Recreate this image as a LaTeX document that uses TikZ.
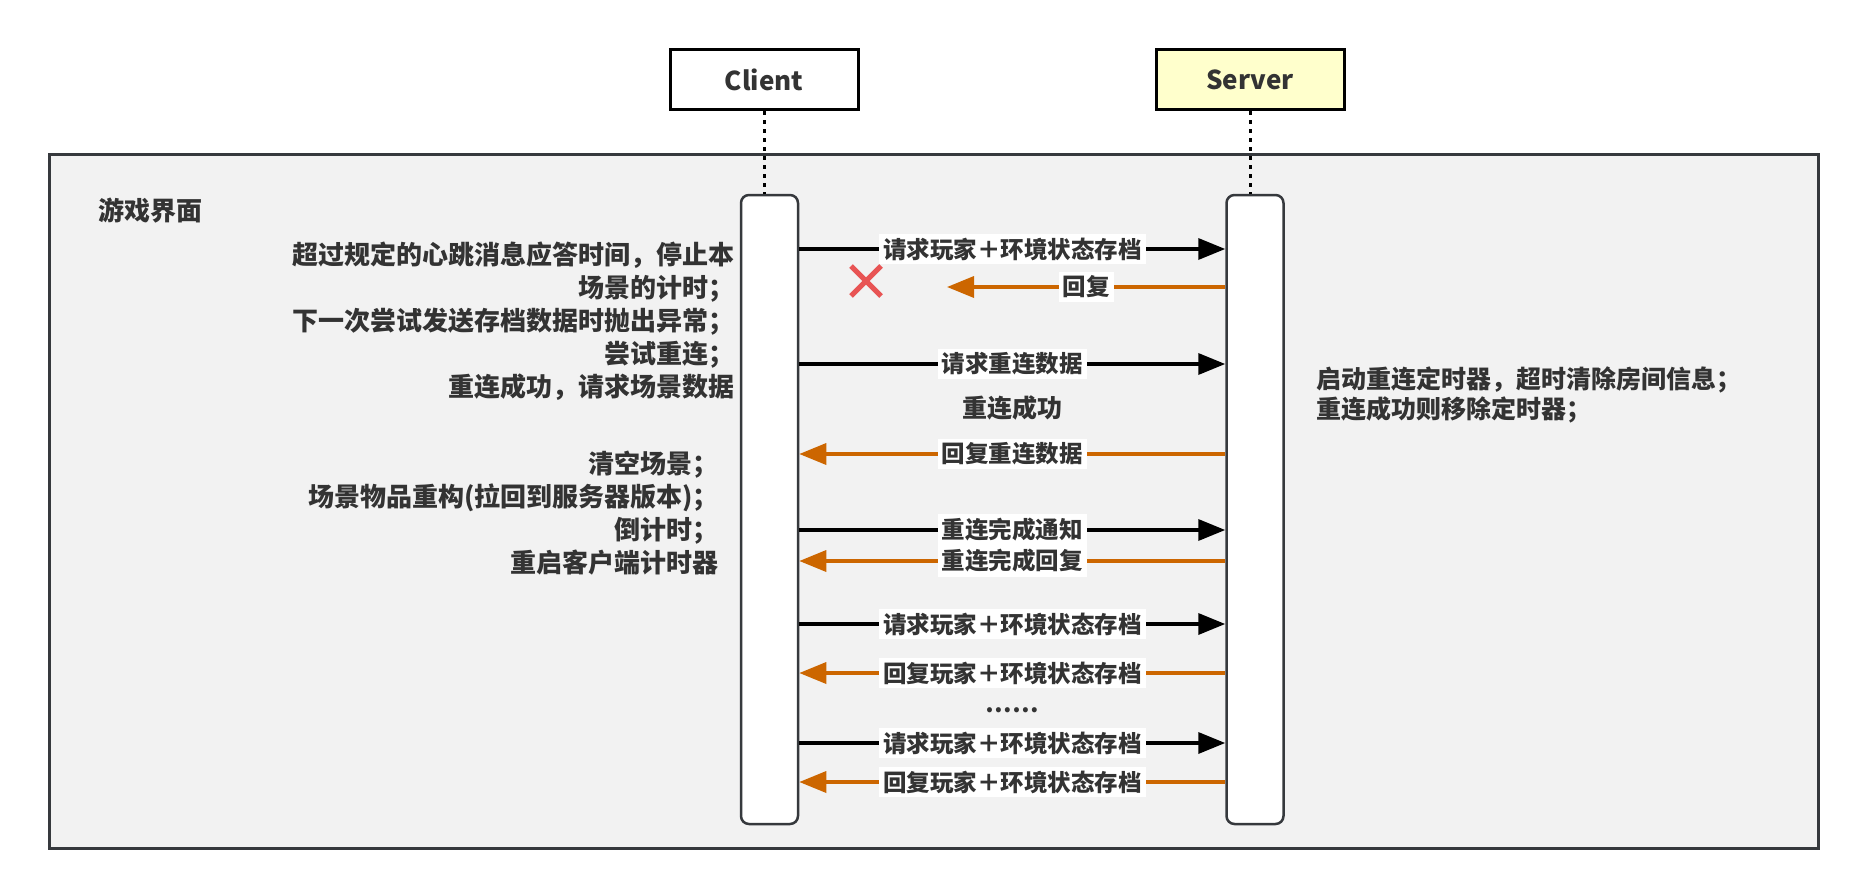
\documentclass[tikz,border=0pt]{standalone}
\usepackage{fontspec}
\setmainfont{Noto Sans CJK SC}
\usetikzlibrary{arrows.meta}
\definecolor{frameborder}{HTML}{36393D}
\definecolor{framefill}{HTML}{F2F2F2}
\definecolor{srvfill}{HTML}{FFFFCC}
\definecolor{replyc}{HTML}{CC6600}
\definecolor{txt}{HTML}{333333}
\definecolor{xred}{HTML}{E85454}
\begin{document}
\begin{tikzpicture}[x=1pt,y=-1pt,
  actor/.style={draw=black, line width=3pt, minimum width=188pt, minimum height=60pt, inner sep=0pt, text=txt, font=\fontsize{26}{30}\selectfont\bfseries},
  actbar/.style={draw=frameborder, fill=white, line width=2.5pt, rounded corners=8pt, minimum width=57pt, minimum height=629pt, inner sep=0pt},
  life/.style={line width=3pt, dash pattern=on 4pt off 5pt},
  req/.style={line width=3.5pt, draw=black, -{Triangle[length=27pt,width=21pt]}},
  rep/.style={line width=3.5pt, draw=replyc, -{Triangle[length=27pt,width=21pt]}},
  lbl/.style={fill=white, inner sep=4pt, text=txt, font=\fontsize{23.5}{26}\selectfont\bfseries},
  note/.style={inner sep=0pt, text=txt, font=\fontsize{26}{33}\selectfont\bfseries}
]
\useasboundingbox (0,0) rectangle (1867,896);
\path[draw=frameborder, fill=framefill, line width=3pt] (49,155) rectangle (1818,848);

\node[actor, fill=white] (client) at (764,80) {Client};
\node[actor, fill=srvfill] (server) at (1250,80) {Server};

\node[actbar] (cbar) at (769.5,509.5) {};
\node[actbar] (sbar) at (1255,509.5) {};

\draw[life] (client.south) -- (client.south |- cbar.north);
\draw[life] (server.south) -- (server.south |- sbar.north);

\node[note, anchor=west] (title) at (98,211) {游戏界面};

\node[note, anchor=east, align=right] (cnote1) at (735,321) {超过规定的心跳消息应答时间，停止本\\场景的计时；\\下一次尝试发送存档数据时抛出异常；\\尝试重连；\\重连成功，请求场景数据};
\node[note, anchor=east, align=right] (cnote2) at (719,513) {清空场景；\\场景物品重构(拉回到服务器版本)；\\倒计时；\\重启客户端计时器};
\node[note, anchor=west, align=left, font=\fontsize{25}{30}\selectfont\bfseries] (snote) at (1316,395) {启动重连定时器，超时清除房间信息；\\重连成功则移除定时器；};

\coordinate (lost) at (947,287);

\draw[req] (cbar.east |- 0,249) -- node[lbl] {请求玩家＋环境状态存档} (sbar.west |- 0,249);
\draw[rep] (sbar.west |- 0,287) -- node[lbl] {回复} (lost);
\draw[xred, line width=5pt] (851,266) -- (881,296) (851,296) -- (881,266);

\draw[req] (cbar.east |- 0,364) -- node[lbl] {请求重连数据} (sbar.west |- 0,364);
\node[note, font=\fontsize{25}{30}\selectfont\bfseries] (ok) at (1012,408) {重连成功};
\draw[rep] (sbar.west |- 0,454) -- node[lbl] {回复重连数据} (cbar.east |- 0,454);
\draw[req] (cbar.east |- 0,530) -- node[lbl] {重连完成通知} (sbar.west |- 0,530);
\draw[rep] (sbar.west |- 0,561) -- node[lbl] {重连完成回复} (cbar.east |- 0,561);
\draw[req] (cbar.east |- 0,624) -- node[lbl] {请求玩家＋环境状态存档} (sbar.west |- 0,624);
\draw[rep] (sbar.west |- 0,673) -- node[lbl] {回复玩家＋环境状态存档} (cbar.east |- 0,673);
\node[lbl, fill=none] (dots) at (1012,710) {……};
\draw[req] (cbar.east |- 0,743) -- node[lbl] {请求玩家＋环境状态存档} (sbar.west |- 0,743);
\draw[rep] (sbar.west |- 0,782) -- node[lbl] {回复玩家＋环境状态存档} (cbar.east |- 0,782);
\end{tikzpicture}
\end{document}
